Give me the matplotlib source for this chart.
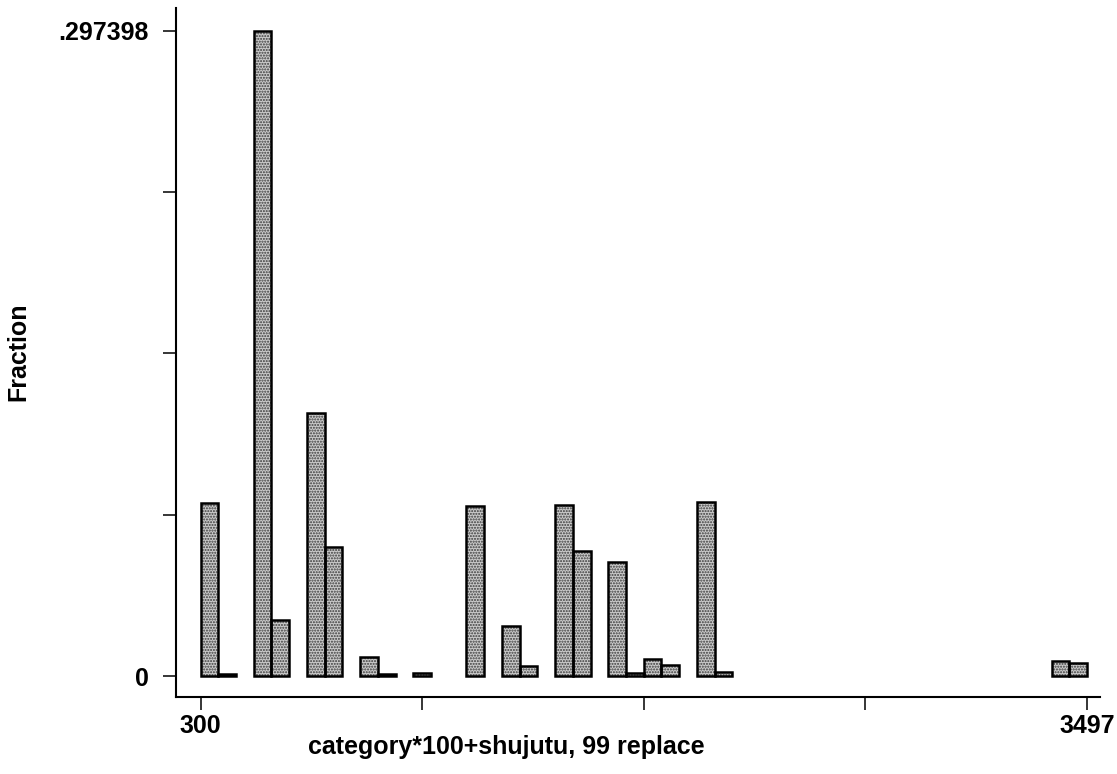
import numpy as np
import matplotlib
matplotlib.use("Agg")
import matplotlib.pyplot as plt

plt.rcParams['font.family'] = ['Liberation Sans', 'DejaVu Sans']

# histogram of category*100+shujutu, 50 bins over [300, 3497]
x_min = 300
x_max = 3497
n_bins = 50
y_top = .297398

# fraction of observations in each bin
fractions = [
    0.0798, 0.0009, 0.0, 0.297398, 0.0258, 0.0, 0.1213, 0.0595, 0.0, 0.0086,
    0.0007, 0.0, 0.0014, 0.0, 0.0, 0.0786, 0.0, 0.0231, 0.0046, 0.0,
    0.0788, 0.0576, 0.0, 0.0527, 0.0014, 0.0078, 0.0051, 0.0, 0.0801, 0.0018,
    0.0, 0.0, 0.0, 0.0, 0.0, 0.0, 0.0, 0.0, 0.0, 0.0,
    0.0, 0.0, 0.0, 0.0, 0.0, 0.0, 0.0, 0.0, 0.0069, 0.0062,
]

x_ticklabels = ['300', '', '', '', '3497']
y_ticklabels = ['0', '', '', '', '.297398']

edges = np.linspace(x_min, x_max, n_bins + 1)
width = edges[1] - edges[0]
frac = np.array(fractions)
keep = frac > 0

fig = plt.figure(figsize=(11.17, 7.74), dpi=100)
ax = fig.add_axes([176 / 1117, 77 / 774, 924 / 1117, 689 / 774])

# stippled fill first, then the black outlines on top
ax.bar(edges[:-1][keep], frac[keep], width=width, align='edge',
       color='#cacaca', edgecolor='#3a3a3a', hatch='......', linewidth=0)
ax.bar(edges[:-1][keep], frac[keep], width=width, align='edge',
       fill=False, edgecolor='black', linewidth=1.8)

px = (x_max - x_min) / (1087 - 200.5)
ax.set_xlim(x_min - 24.5 * px, x_max + 13 * px)
py = y_top / (676 - 31)
ax.set_ylim(-21 * py, y_top + 23 * py)

ax.set_xticks(np.linspace(x_min, x_max, 5))
ax.set_xticklabels(x_ticklabels)
ax.set_yticks(np.linspace(0, y_top, 5))
ax.set_yticklabels(y_ticklabels)

for s in ['top', 'right']:
    ax.spines[s].set_visible(False)
for s in ['left', 'bottom']:
    ax.spines[s].set_linewidth(1.5)

ax.tick_params(axis='both', direction='out', length=9.5, width=1.1,
               labelsize=18, colors='black')
ax.tick_params(axis='y', pad=10)
ax.tick_params(axis='x', pad=3)
for lab in ax.get_xticklabels() + ax.get_yticklabels():
    lab.set_fontweight('bold')

fig.text(18 / 1117, 1 - 352 / 774, 'Fraction', rotation=90,
         ha='center', va='center', fontsize=18, fontweight='bold')
fig.text(506 / 1117, 1 - 747 / 774, 'category*100+shujutu, 99 replace',
         ha='center', va='center', fontsize=18, fontweight='bold')

fig.savefig('out.png', dpi=100)
